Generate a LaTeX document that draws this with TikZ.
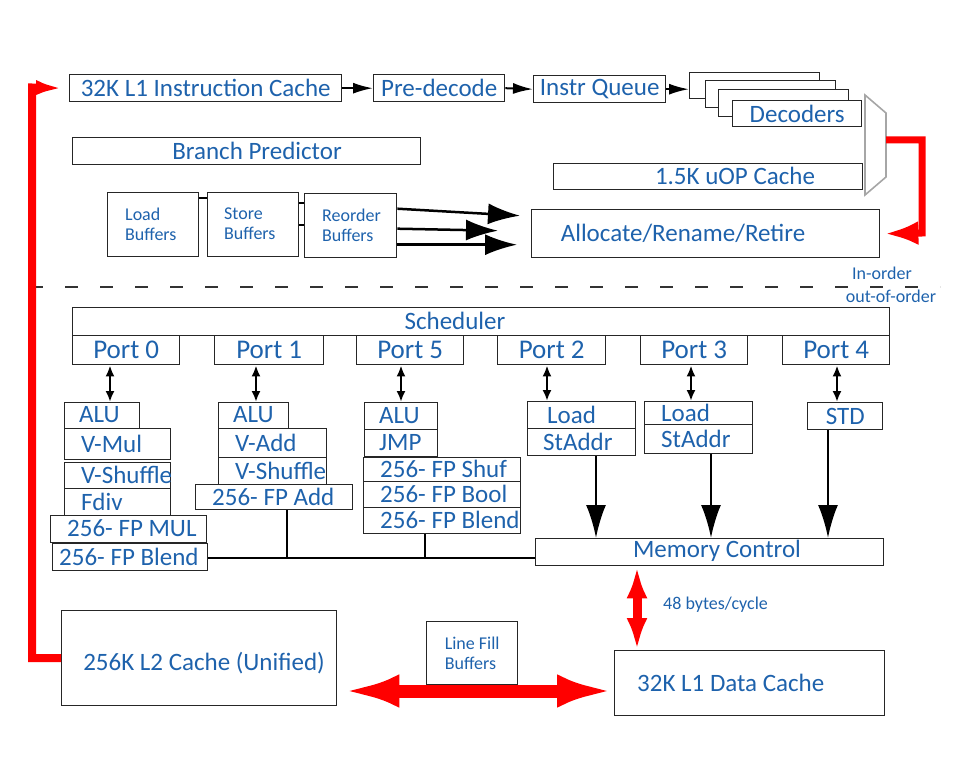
\documentclass[tikz,border=0pt]{standalone}
\usepackage{fontspec}
\setmainfont{Carlito}
\usetikzlibrary{arrows.meta}
\definecolor{tblue}{RGB}{30,98,172}
\definecolor{mred}{RGB}{255,0,0}
\newcommand\bx[7][]{\node[box,minimum width={#5-#3},minimum height={#6-#4},#1] (#2) at (#3,#4) {#7};}
\newcommand\bxl[8][]{\bx{#2}{#3}{#4}{#5}{#6}{}\node[lbl,#1,anchor=west] (#2-t) at (#7,{(#4+#6)/2}) {#8};}
\tikzset{
  box/.style={draw=black!85, line width=1.4pt, rectangle, inner sep=0pt, anchor=north west, text=tblue, align=center},
  lbl/.style={text=tblue, inner sep=0pt},
  big/.style={font=\fontsize{25}{28}\selectfont},
  unit/.style={font=\fontsize{25}{28}\selectfont},
  port/.style={font=\fontsize{27}{30}\selectfont},
  small/.style={font=\fontsize{18}{20}\selectfont},
  blk/.style={-{Latex[length=20pt,width=11pt]}, line width=2pt},
  rblk/.style={-{Latex[length=32pt,width=21pt]}, line width=2.5pt},
  dbl/.style={{Latex[length=11pt,width=9pt]}-{Latex[length=11pt,width=9pt]}, line width=2.5pt},
  mblk/.style={-{Latex[length=33pt,width=20pt]}, line width=2.5pt},
  bus/.style={line width=2.5pt},
  tiny/.style={line width=1.4pt},
}
\begin{document}
\begin{tikzpicture}[x=1pt,y=-1pt]
\useasboundingbox (0,0) rectangle (978,765);
% ---- front end
\bx[big]{l1i}{69}{74}{341}{101}{32K L1 Instruction Cache}
\bx[big]{pre}{373}{74}{504}{101}{Pre-decode}
\bx[big]{iq}{533}{75}{665}{102}{Instr Queue}
\bx[fill=white]{dec1}{689}{72}{819}{98}{}
\bx[fill=white]{dec2}{705}{80}{835}{107}{}
\bx[fill=white]{dec3}{718}{89}{848}{116}{}
\bx[big,fill=white]{dec}{732}{100}{861}{126}{Decoders}
\draw[blk] (l1i.east) -- (pre.west);
\draw[blk] (pre.east) -- (iq.west);
\draw[blk] (iq.east) -- (iq.east -| dec1.west);
\draw[gray!70, line width=1.6pt] (865,95) -- (886,113) -- (886,177) -- (865,195) -- cycle;
\coordinate (muxo) at (886,140);
\bx{bp}{72}{137}{420}{164}{}
\node[lbl,big] (bp-t) at (257,150.5) {Branch Predictor};
\bx{uop}{553}{163}{862}{189}{}
\node[lbl,big] (uop-t) at (735,176) {1.5K uOP Cache};
% ---- buffers
\bx{lb}{107}{192}{198}{256}{}
\node[lbl,small,anchor=west,align=left] (lb-t) at (125,224) {Load\\Buffers};
\bx{sb}{207}{192}{298}{256}{}
\node[lbl,small,anchor=west,align=left] (sb-t) at (224,224) {Store\\Buffers};
\bx{rb}{304}{193}{396}{257}{}
\node[lbl,small,anchor=west,align=left] (rb-t) at (322,225) {Reorder\\Buffers};
\draw[tiny] ([yshift=-6pt]lb.north east) -- ([yshift=-6pt]sb.north west);
\draw[tiny] ([yshift=-11pt]sb.north east) -- ([yshift=-11pt]sb.north east -| rb.west);
\draw[tiny] ([yshift=-33pt]sb.north east) -- ([yshift=-33pt]sb.north east -| rb.west);
\bx{arr}{531}{209}{879}{257}{}
\node[lbl,big] (arr-t) at (683,233) {Allocate/Rename/Retire};
\draw[rblk] ([yshift=17pt]rb.east) -- ([xshift=-11pt,yshift=18pt]arr.west);
\draw[rblk] ([yshift=-3pt]rb.east) -- ([xshift=-33pt,yshift=3pt]arr.west);
\draw[rblk] ([yshift=-19pt]rb.east) -- ([xshift=-14pt,yshift=-11pt]arr.west);
\draw[mred, line width=7pt, -{Latex[length=34pt,width=24pt]}] (muxo) -- (922,140) -- (922,233) -- ([xshift=4pt]arr.east);
% ---- in-order / out-of-order
\draw[black!80, line width=1.3pt, dash pattern=on 13pt off 22pt] (30,287) -- (940,287);
\node[lbl,small] (io) at (882,273) {In-order};
\node[lbl,small] (oo) at (891,296) {out-of-order};
% ---- scheduler and ports
\bx{sch}{72}{307}{889}{335}{}
\node[lbl,big] (sch-t) at (455,321) {Scheduler};
\bx[port]{p0}{72}{335}{179}{364}{Port 0}
\bx[port]{p1}{214}{335}{323}{364}{Port 1}
\bx[port]{p5}{356}{335}{463}{364}{Port 5}
\bx[port]{p2}{497}{335}{605}{364}{Port 2}
\bx[port]{p3}{640}{335}{747}{364}{Port 3}
\bx[port]{p4}{782}{335}{889}{364}{Port 4}
% ---- execution units
\bxl[unit]{p0a}{64}{402}{139}{428}{79}{ALU}
\bxl[unit]{p0b}{64}{428}{170}{459}{81}{V-Mul}
\bxl[unit]{p0c}{64}{462}{170}{488}{81}{V-Shuffle}
\bxl[unit]{p0d}{64}{488}{170}{515}{81}{Fdiv}
\bxl[unit]{p0e}{50}{515}{206}{542}{67}{256- FP MUL}
\bxl[unit]{p0f}{52}{543}{207}{570}{59}{256- FP Blend}
\bxl[unit]{p1a}{218}{402}{288}{428}{233}{ALU}
\bxl[unit]{p1b}{218}{428}{326}{457}{235}{V-Add}
\bxl[unit]{p1c}{218}{457}{326}{484}{235}{V-Shuffle}
\bxl[unit]{p1d}{195}{484}{352}{509}{212}{256- FP Add}
\bxl[unit]{p5a}{364}{402}{437}{429}{379}{ALU}
\bxl[unit]{p5b}{364}{429}{437}{456}{379}{JMP}
\bxl[unit]{p5c}{363}{457}{520}{481}{380}{256- FP Shuf}
\bxl[unit]{p5d}{363}{481}{520}{507}{380}{256- FP Bool}
\bxl[unit]{p5e}{363}{507}{520}{533}{380}{256- FP Blend}
\bxl[unit]{p2a}{527}{401}{635}{428}{547}{Load}
\bxl[unit]{p2b}{527}{428}{635}{455}{543}{StAddr}
\bxl[unit]{p3a}{644}{401}{752}{424}{661}{Load}
\bxl[unit]{p3b}{644}{424}{752}{453}{661}{StAddr}
\bx[unit]{p4a}{807}{402}{882}{429}{STD}
% port arrows
\coordinate (c110) at (110,0); \coordinate (c256) at (256,0); \coordinate (c401) at (401,0);
\coordinate (c547) at (547,0); \coordinate (c691) at (691,0); \coordinate (c837) at (837,0);
\draw[dbl] (p0.south -| c110) -- (p0a.north -| c110);
\draw[dbl] (p1.south -| c256) -- (p1a.north -| c256);
\draw[dbl] (p5.south -| c401) -- (p5a.north -| c401);
\draw[dbl] (p2.south -| c547) -- (p2a.north -| c547);
\draw[dbl] (p3.south -| c691) -- (p3a.north -| c691);
\draw[dbl] (p4.south -| c837) -- (p4a.north -| c837);
% memory control
\bx{mc}{535}{538}{883}{565}{}
\node[lbl,big] (mc-t) at (717,551) {Memory Control};
\coordinate (c596) at (596,0); \coordinate (c711) at (711,0); \coordinate (c828) at (828,0);
\draw[mblk] (p2b.south -| c596) -- (mc.north -| c596);
\draw[mblk] (p3b.south -| c711) -- (mc.north -| c711);
\draw[mblk] (p4a.south -| c828) -- (mc.north -| c828);
\coordinate (busy) at (0,558);
\coordinate (c287) at (287,0); \coordinate (c425) at (425,0);
\draw[bus] (p0f.east |- busy) -- (mc.west |- busy);
\draw[bus] (p1d.south -| c287) -- (c287 |- busy);
\draw[bus] (p5e.south -| c425) -- (c425 |- busy);
% ---- caches
\bx{l1d}{614}{650}{884}{715}{}
\node[lbl,big,anchor=west] (l1d-t) at (637,683) {32K L1 Data Cache};
\bx{l2}{61}{610}{336}{705}{}
\node[lbl,big] (l2-t) at (204,663) {256K L2 Cache (Unified)};
\bx[small,align=left]{lfb}{426}{621}{517}{684}{Line Fill\\Buffers}
\coordinate (c637) at (637,0);
\draw[mred, line width=9pt, {Latex[length=32pt,width=21pt]}-{Latex[length=32pt,width=21pt]}] (mc.south -| c637) -- (l1d.north -| c637);
\node[lbl,small,anchor=west] (bw) at (663,605) {48 bytes/cycle};
\coordinate (c691y) at (0,691);
\draw[mred, line width=13pt, {Latex[length=57pt,width=33pt]}-{Latex[length=57pt,width=33pt]}] ([xshift=5pt]l2.east |- c691y) -- (l1d.west |- c691y);
\coordinate (c658y) at (0,658);
\draw[mred, line width=8pt, -{Latex[length=27pt,width=15pt]}] (l2.west |- c658y) -- (32,658) -- (32,87.5) -- ([xshift=-6pt]l1i.west);
\end{tikzpicture}
\end{document}
